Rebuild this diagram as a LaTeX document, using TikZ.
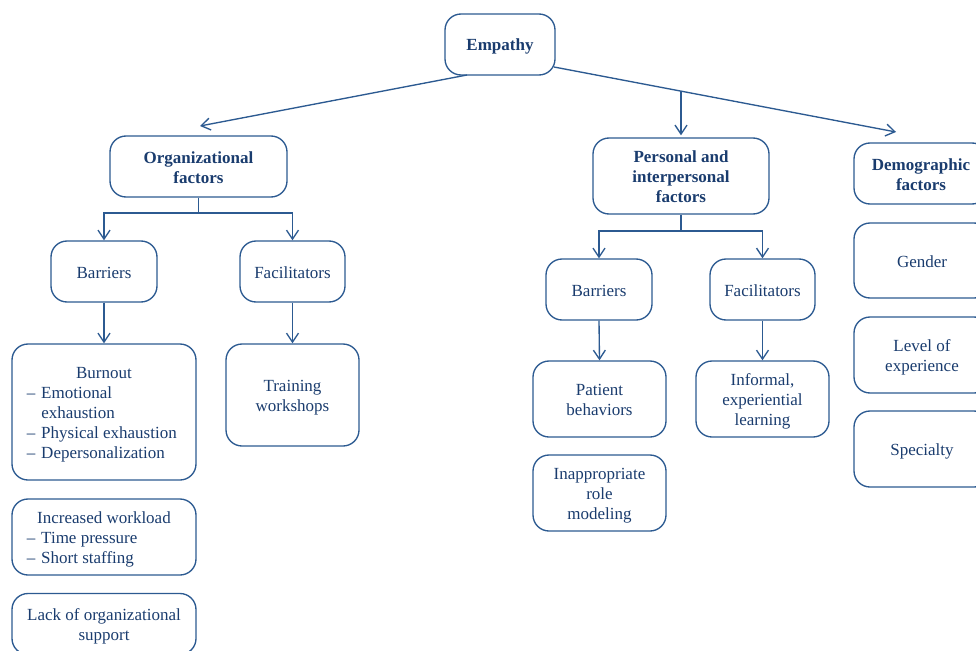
\documentclass[tikz,border=0pt]{standalone}
\usepackage{fontspec}
\setmainfont{Liberation Serif}
\usetikzlibrary{arrows.meta}
\definecolor{ln}{RGB}{44,90,145}
\definecolor{tx}{RGB}{26,60,110}
\newcommand{\bxt}[1]{\raisebox{-2.5pt}[\height][\depth]{\begin{tabular}{@{}c@{}}#1\end{tabular}}}
\begin{document}
\begin{tikzpicture}[x=1pt,y=-1pt,
  box/.style={draw=ln, line width=1.35pt, rounded corners=16pt, text=tx, align=center,
    inner sep=0pt, font=\fontsize{17}{20}\selectfont},
  conn/.style={draw=ln, line width=1.35pt},
  arr/.style={conn, -{Straight Barb[length=9pt,width=12pt,line width=1.35pt]}}]
\path[use as bounding box] (0,0) rectangle (976,650);
\clip (0,0) rectangle (976,650);

% top level
\node[box, minimum width=110pt, minimum height=61pt] (emp) at (500,44.5) {\bxt{\textbf{Empathy}}};
\node[box, minimum width=177pt, minimum height=61pt] (org) at (198.5,166.5) {\bxt{\textbf{Organizational}\\\textbf{factors}}};
\node[box, minimum width=176pt, minimum height=76pt] (pif) at (681,176) {\bxt{\textbf{Personal and}\\\textbf{interpersonal}\\\textbf{factors}}};
\node[box, minimum width=134pt, minimum height=61pt] (dem) at (921,173.5) {\bxt{\textbf{Demographic}\\\textbf{factors}}};

% organizational
\node[box, minimum width=106pt, minimum height=61pt] (ob) at (104,271.5) {\bxt{Barriers}};
\node[box, minimum width=105pt, minimum height=61pt] (of) at (292.5,271.5) {\bxt{Facilitators}};
\node[box, minimum width=184pt, minimum height=136pt] (burn) at (104,412)
  {\raisebox{-2.5pt}[\height][\depth]{\begin{tabular}{@{}l@{\hspace{6pt}}p{140pt}@{}}
   \multicolumn{2}{@{}c@{}}{Burnout}\\
   – & Emotional\\
     & exhaustion\\
   – & Physical exhaustion\\
   – & Depersonalization
   \end{tabular}}};
\node[box, minimum width=133pt, minimum height=102pt] (train) at (292.5,395) {\bxt{Training\\workshops}};
\node[box, minimum width=184pt, minimum height=76pt] (work) at (104,537)
  {\raisebox{-2.5pt}[\height][\depth]{\begin{tabular}{@{}l@{\hspace{6pt}}p{140pt}@{}}
   \multicolumn{2}{@{}c@{}}{Increased workload}\\
   – & Time pressure\\
   – & Short staffing
   \end{tabular}}};
\node[box, minimum width=184pt, minimum height=61pt] (lack) at (104,624) {\bxt{Lack of organizational\\support}};

% personal and interpersonal
\node[box, minimum width=106pt, minimum height=61pt] (pb) at (599,289.5) {\bxt{Barriers}};
\node[box, minimum width=105pt, minimum height=61pt] (pf) at (762.5,289.5) {\bxt{Facilitators}};
\node[box, minimum width=133pt, minimum height=76pt] (pat) at (599.5,399) {\bxt{Patient\\behaviors}};
\node[box, minimum width=133pt, minimum height=76pt] (inf) at (762.5,399) {\bxt{Informal,\\experiential\\learning}};
\node[box, minimum width=133pt, minimum height=76pt] (inap) at (599.5,493) {\bxt{Inappropriate\\role\\modeling}};

% demographic
\node[box, minimum width=136pt, minimum height=75pt] (gen) at (922,260.5) {\bxt{Gender}};
\node[box, minimum width=136pt, minimum height=76pt] (lev) at (922,355) {\bxt{Level of\\experience}};
\node[box, minimum width=136pt, minimum height=76pt] (spec) at (922,449) {\bxt{Specialty}};

% connectors from Empathy
\coordinate (e1) at (467,75);
\coordinate (o1) at (200,126);
\coordinate (e2) at (554,67);
\coordinate (d1) at (896,132);
\coordinate (j1) at (681,91.2);
\draw[arr] (e1) -- (o1);
\draw[arr] (e2) -- (d1);
\draw[arr, shorten >=2pt] (j1) -- (pif.north);

% organizational branch
\coordinate (oj) at (198.5,213);
\draw[conn] (org.south) -- (oj);
\draw[arr] (oj) -| (ob.north);
\draw[arr] (oj) -| (of.north);
\draw[arr] (ob.south) -- (burn.north);
\draw[arr] (of.south) -- (train.north);

% personal branch
\coordinate (pj) at (681,231);
\draw[conn] (pif.south) -- (pj);
\draw[arr] (pj) -| (pb.north);
\draw[arr] (pj) -| (pf.north);
\draw[arr] (pb.south) -- (pat.north);
\draw[arr] (pf.south) -- (inf.north);
\end{tikzpicture}
\end{document}
